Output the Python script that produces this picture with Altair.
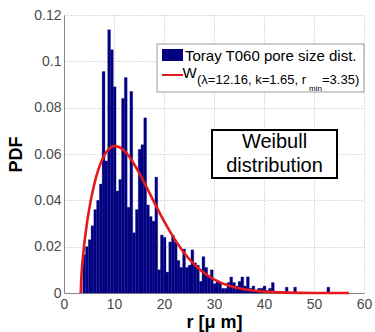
import altair as alt
import pandas as pd

# ---------------- data ----------------
BIN_START = 3.75      # left edge of first histogram bin (µm)
BIN_WIDTH = 0.555     # histogram bin width (µm)
pdf_heights = [
    0.0165, 0.020, 0.023, 0.029, 0.036, 0.040, 0.047, 0.0956, 0.057, 0.1136,
    0.105, 0.089, 0.044, 0.049, 0.084, 0.093, 0.037, 0.087, 0.026, 0.036,
    0.062, 0.064, 0.0756, 0.038, 0.033, 0.031, 0.050, 0.010, 0.025, 0.024,
    0.009, 0.022, 0.025, 0.022, 0.014, 0.011, 0.019, 0.011, 0.012, 0.0186,
    0.013, 0.012, 0.005, 0.0157, 0.011, 0.007, 0.010, 0.004, 0.005, 0.0044,
    0.002, 0.002, 0.0045, 0.0069, 0.0045, 0.003, 0.005, 0.0069, 0.003, 0.007,
    0.002, 0.003, 0.001, 0.002, 0.002, 0.003, 0.001, 0.002, 0.0045, 0.0,
    0.0, 0.0, 0.0, 0.0025, 0.0, 0.0, 0.0025, 0.0, 0.0, 0.0,
    0.0, 0.0, 0.0, 0.0, 0.0, 0.0, 0.0, 0.0, 0.0025,
]
curve_r = [3.35, 3.45, 3.6, 3.8, 4, 4.5, 5, 6, 7, 8, 9, 10, 11, 12, 13, 14, 15,
           16, 18, 20, 22, 24, 26, 28, 30, 33, 36, 40, 45, 50, 57]
curve_pdf = [0.0, 0.006, 0.0109, 0.0158, 0.0201, 0.0287, 0.0357, 0.0465, 0.0541,
             0.0592, 0.0622, 0.0634, 0.0630, 0.0615, 0.0590, 0.0557, 0.0520,
             0.0479, 0.0393, 0.0310, 0.0237, 0.0174, 0.0125, 0.0087, 0.0059,
             0.0031, 0.0016, 0.0006, 0.00015, 0.00003, 0.0]
x_ticks = [0, 10, 20, 30, 40, 50, 60]
y_ticks = [0, 0.02, 0.04, 0.06, 0.08, 0.1, 0.12]
legend_hist_label = "Toray T060 pore size dist."
legend_fit_main = "W"
legend_fit_sub = "(λ=12.16, k=1.65, r"
legend_fit_subsub = "min"
legend_fit_tail = "=3.35)"
box_lines = ["Weibull", "distribution"]

# ---------------- tables ----------------
bars = pd.DataFrame({
    "r0": [BIN_START + i * BIN_WIDTH for i in range(len(pdf_heights))],
    "r1": [BIN_START + (i + 1) * BIN_WIDTH for i in range(len(pdf_heights))],
    "h": pdf_heights,
})
curve = pd.DataFrame({"r": curve_r, "p": curve_pdf})
one = pd.DataFrame({"a": [0]})

FONT = "Liberation Sans"
NAVY = "#000080"
RED = "#e3191c"

xs = alt.Scale(domain=[0, 60], nice=False, zero=False)
ys = alt.Scale(domain=[0, 0.12], nice=False)

xaxis = alt.Axis(values=x_ticks, title="r [μ m]", grid=True, gridDash=[1, 2],
                 gridColor="#b8b8b8", domainColor="#888", ticks=False,
                 labelFontSize=14, labelColor="#4a4a4a", labelFont=FONT,
                 titleFont=FONT, titleFontSize=18, titleFontWeight="bold",
                 titleColor="#000", labelPadding=4, titlePadding=2,
                 labelFlush=False)
yaxis = alt.Axis(values=y_ticks, title="PDF", grid=True, gridDash=[1, 2],
                 gridColor="#b8b8b8", domainColor="#888", ticks=False,
                 labelFontSize=14, labelColor="#4a4a4a", labelFont=FONT,
                 labelExpr="datum.value == 0 ? '0' : format(datum.value, '~g')",
                 titleFont=FONT, titleFontSize=18, titleFontWeight="bold",
                 titleColor="#000", labelPadding=3, titlePadding=8,
                 labelFlush=False)

hist = alt.Chart(bars).mark_rect(color=NAVY, stroke=NAVY, strokeWidth=0.3).encode(
    x=alt.X("r0:Q", scale=xs, axis=xaxis),
    x2="r1:Q",
    y=alt.Y("h:Q", scale=ys, axis=yaxis),
    y2=alt.datum(0),
)

line = alt.Chart(curve).mark_line(color=RED, strokeWidth=2.6, interpolate="monotone").encode(
    x=alt.X("r:Q", scale=xs),
    y=alt.Y("p:Q", scale=ys),
)

# legend box (custom, to allow sub/superscripts)
leg_box = alt.Chart(one).mark_rect(fill="white", stroke="#999", strokeWidth=1).encode(
    x=alt.value(93), x2=alt.value(300), y=alt.value(29), y2=alt.value(77))
leg_patch = alt.Chart(one).mark_rect(fill=NAVY).encode(
    x=alt.value(98), x2=alt.value(119), y=alt.value(34), y2=alt.value(46))
leg_line = alt.Chart(one).mark_rule(color=RED, strokeWidth=2).encode(
    x=alt.value(98), x2=alt.value(119), y=alt.value(60))
leg_t1 = alt.Chart(one).mark_text(align="left", baseline="alphabetic", font=FONT,
                                  fontSize=15, color="#000").encode(
    x=alt.value(121), y=alt.value(46), text=alt.value(legend_hist_label))
leg_t2 = alt.Chart(one).mark_text(align="left", baseline="alphabetic", font=FONT,
                                  fontSize=15, color="#000").encode(
    x=alt.value(118.5), y=alt.value(63), text=alt.value(legend_fit_main))
leg_t3 = alt.Chart(one).mark_text(align="left", baseline="alphabetic", font=FONT,
                                  fontSize=13, color="#000").encode(
    x=alt.value(133), y=alt.value(69), text=alt.value(legend_fit_sub))
leg_t4 = alt.Chart(one).mark_text(align="left", baseline="alphabetic", font=FONT,
                                  fontSize=8, color="#000").encode(
    x=alt.value(245), y=alt.value(76), text=alt.value(legend_fit_subsub))
leg_t5 = alt.Chart(one).mark_text(align="left", baseline="alphabetic", font=FONT,
                                  fontSize=13, color="#000").encode(
    x=alt.value(258), y=alt.value(69), text=alt.value(legend_fit_tail))

# annotation box
wb_box = alt.Chart(one).mark_rect(fill="white", stroke="#000", strokeWidth=2).encode(
    x=alt.value(148), x2=alt.value(273), y=alt.value(115), y2=alt.value(163))
wb_t1 = alt.Chart(one).mark_text(align="center", baseline="alphabetic", font=FONT,
                                 fontSize=20, color="#000").encode(
    x=alt.value(210.5), y=alt.value(133), text=alt.value(box_lines[0]))
wb_t2 = alt.Chart(one).mark_text(align="center", baseline="alphabetic", font=FONT,
                                 fontSize=20, color="#000").encode(
    x=alt.value(210.5), y=alt.value(157), text=alt.value(box_lines[1]))

chart = alt.layer(
    hist, line, leg_box, leg_patch, leg_line, leg_t1, leg_t2, leg_t3, leg_t4, leg_t5,
    wb_box, wb_t1, wb_t2,
).properties(
    width=300, height=278,
    padding={"left": 64, "top": 15, "right": 11, "bottom": 39},
    autosize=alt.AutoSizeParams(type="none"),
    background="white",
).configure_view(stroke=None)

chart.save("out.html", embed_options={"renderer": "svg", "actions": False})
